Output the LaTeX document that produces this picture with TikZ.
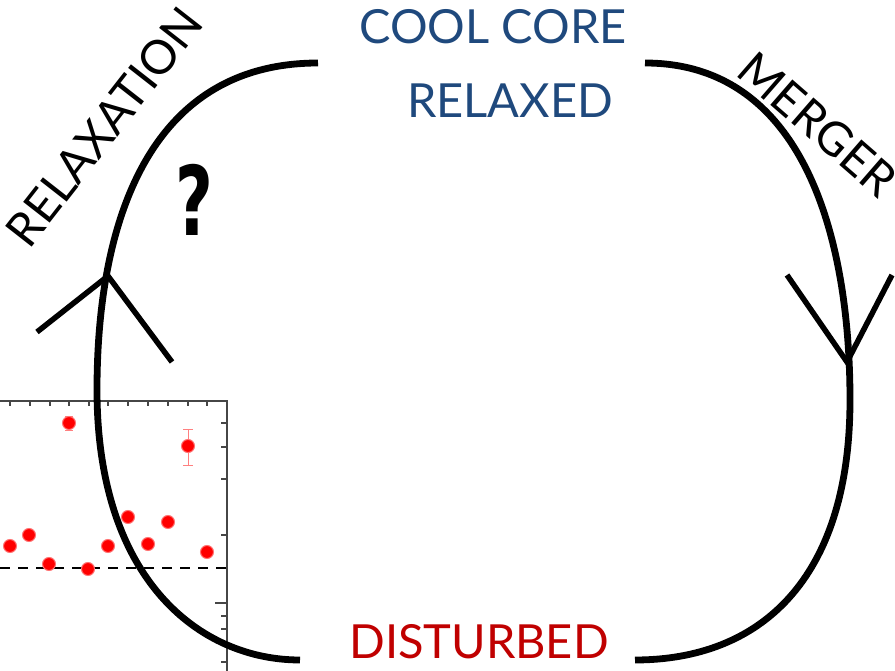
\documentclass[tikz,border=0pt]{standalone}
\usepackage{fontspec}
\setmainfont{Lato}
\newfontfamily\qfont{DejaVu Sans}
\definecolor{coolblue}{RGB}{31,73,125}
\definecolor{hotred}{RGB}{192,0,0}
\definecolor{axisgray}{RGB}{70,70,70}
\begin{document}
\begin{tikzpicture}[x=1pt,y=-1pt,
  cycle/.style={line width=6.8pt,black},
  barb/.style={line width=5.5pt,black},
  lbl/.style={inner sep=0pt,font=\fontsize{47}{47}\selectfont},
  dot/.style={circle,fill=red,draw=red!55,line width=1pt,minimum size=13pt,inner sep=0pt},
  errbar/.style={red!50,line width=1pt},
  axis/.style={axisgray,line width=1.6pt},
  tick/.style={axisgray,line width=1.2pt}]
\useasboundingbox (0,0) rectangle (895,671);
\fill[white] (0,0) rectangle (895,671);
% ---- inset plot
\draw[axis] (0,401) -- (227,401) -- (227,671);
\foreach \x in {10,30,50,69,89,108,128,148,168,188,207}
  \draw[tick] (\x,401) -- (\x,406);
\foreach \y in {423,447,479,535,568,616,629,662}
  \draw[tick] (227,\y) -- (221,\y);
\draw[tick] (227,603) -- (215,603);
\draw[black,line width=1.6pt,dash pattern=on 10pt off 8pt] (0,568) -- (227,568);
\draw[errbar] (69,416) -- (69,430) (65,416) -- (73,416) (65,430) -- (73,430);
\draw[errbar] (188,429) -- (188,465) (183,429) -- (193,429) (183,465) -- (193,465);
\foreach \p/\x/\y in {a/10/546,b/29/535,c/49/564,d/69/423,e/88/569,f/108/546,g/128/517,h/148/544,i/168/522,j/188/446,k/207/552}
  \node[dot] (pt\p) at (\x,\y) {};
% ---- labels
\node[lbl,text=coolblue] (cool) at (493,27) {COOL CORE};
\node[lbl,text=coolblue] (relaxed) at (510,101) {RELAXED};
\node[lbl,text=hotred] (disturbed) at (479,642) {DISTURBED};
\node[lbl,rotate=52] (relaxation) at (104,127) {RELAXATION};
\node[lbl,rotate=-41] (merger) at (818,124) {MERGER};
\node[inner sep=0pt] (q) at (194,200) {\scalebox{0.68}[1]{\qfont\bfseries\fontsize{96}{96}\selectfont ?}};
% ---- cycle curves
\coordinate (lt) at (318,63);
\coordinate (lm) at (97,390);
\coordinate (lb) at (300,660);
\coordinate (rt) at (645,63);
\coordinate (rm) at (850,400);
\coordinate (rb) at (635,660);
\draw[cycle,line cap=butt] (lt) .. controls (150,63) and (97,220) .. (lm)
  .. controls (97,580) and (200,660) .. (lb);
\draw[cycle,line cap=butt] (rt) .. controls (800,63) and (850,230) .. (rm)
  .. controls (850,580) and (760,660) .. (rb);
% ---- arrowheads
\coordinate (lv) at (108,276);
\coordinate (lv1) at (37,332);
\coordinate (lv2) at (172,362);
\draw[barb] (lv1) -- (lv) -- (lv2);
\coordinate (rv) at (847,362);
\coordinate (rv1) at (787,275);
\coordinate (rv2) at (892,275);
\draw[barb] (rv1) -- (rv) -- (rv2);
\end{tikzpicture}
\end{document}
